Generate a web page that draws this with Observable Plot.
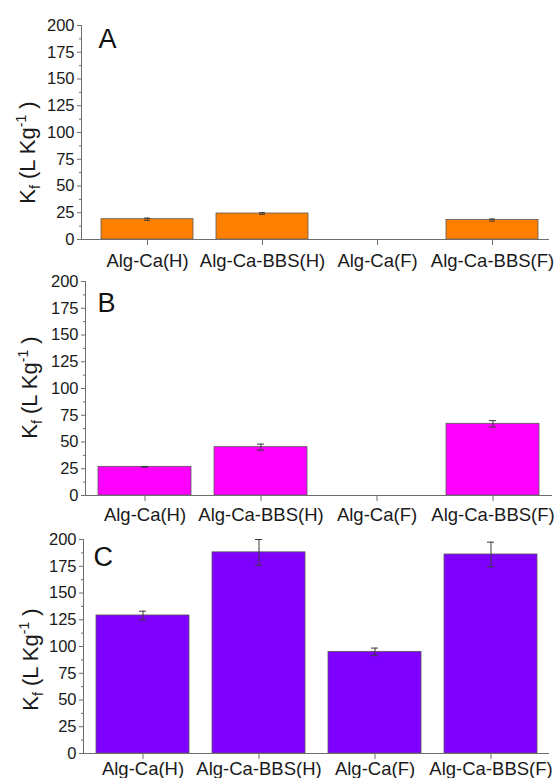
<!DOCTYPE html>
<html>
<head>
<meta charset="utf-8">
<script src="https://cdn.jsdelivr.net/npm/d3@7"></script>
<script src="https://cdn.jsdelivr.net/npm/@observablehq/plot@0.6"></script>
<style>
  body { margin: 0; background: #fff; }
  #chart svg { display: block; overflow: visible; }
</style>
</head>
<body>
<div id="chart"></div>
<script>
// ---- data ----
const categories = ["Alg-Ca(H)", "Alg-Ca-BBS(H)", "Alg-Ca(F)", "Alg-Ca-BBS(F)"];
const panelLetters = ["A", "B", "C"];
const valuesA = [19.0, 24.3, null, 18.2];
const errorsA = [1.0, 0.8, null, 1.0];
const valuesB = [26.8, 45.2, null, 67.0];
const errorsB = [0.3, 2.8, null, 3.0];
const valuesC = [129.0, 188.0, 95.0, 186.0];
const errorsC = [4.0, 12.0, 3.5, 11.5];
const barColors = ["#FF8000", "#FF00FF", "#8000FF"];
const yTicks = [0, 25, 50, 75, 100, 125, 150, 175, 200];
const yMinorTicks = [12.5, 37.5, 62.5, 87.5, 112.5, 137.5, 162.5, 187.5];
const yLabelParts = ["K", "f", "(L Kg", "-1", ")"];

// ---- layout ----
const layouts = [
  {height: 262, marginTop: 25, marginBottom: 23, marginLeft: 81, marginRight: 9, insetLeft: 8,
   tickPadding: 8, letterDx: 17, letterDy: 3, labelDx: -54, labelDy: 20},
  {height: 258, marginTop: 19, marginBottom: 25, marginLeft: 85, marginRight: 6, insetLeft: 0,
   tickPadding: 6, letterDx: 12, letterDy: 11, labelDx: -56, labelDy: -1},
  {height: 258, marginTop: 19, marginBottom: 25, marginLeft: 83, marginRight: 9, insetLeft: 1.5,
   tickPadding: 2.5, letterDx: 10, letterDy: 7, labelDx: -53, labelDy: 13}
];

const seriesValues = [valuesA, valuesB, valuesC];
const seriesErrors = [errorsA, errorsB, errorsC];
const yLabelPlain = yLabelParts.join("");
const font = "'Liberation Sans', Arial, sans-serif";
const axisColor = "#6e6e6e";

const container = document.getElementById("chart");

seriesValues.forEach((vals, i) => {
  const L = layouts[i];
  const rows = categories.map((c, j) => ({c, v: vals[j], e: seriesErrors[i][j]}))
    .filter(d => d.v != null);

  const svg = Plot.plot({
    width: 558,
    height: L.height,
    marginTop: L.marginTop,
    marginBottom: L.marginBottom,
    marginLeft: L.marginLeft,
    marginRight: L.marginRight,
    style: {fontFamily: font, background: "transparent", color: "#1a1a1a", overflow: "visible"},
    x: {domain: categories, paddingInner: 0.2, paddingOuter: 0.1, insetLeft: L.insetLeft, label: null},
    y: {domain: [0, 200], label: null},
    marks: [
      Plot.barY(rows, {x: "c", y: "v", fill: barColors[i], stroke: "#5a5a5a", strokeWidth: 0.8}),
      Plot.ruleX(rows, {x: "c", y1: d => d.v - d.e, y2: d => d.v + d.e, stroke: "#3a3a3a", strokeWidth: 1}),
      Plot.tickY(rows, {x: "c", y: d => d.v + d.e, stroke: "#3a3a3a", strokeWidth: 1, insetLeft: 43, insetRight: 43}),
      Plot.tickY(rows, {x: "c", y: d => d.v - d.e, stroke: "#3a3a3a", strokeWidth: 1, insetLeft: 43, insetRight: 43}),
      Plot.ruleY([0], {stroke: axisColor, strokeWidth: 1}),
      Plot.frame({anchor: "left", stroke: axisColor, strokeWidth: 1}),
      Plot.axisY({ticks: yTicks, tickSize: 4, tickPadding: 3, fontSize: 16.5, stroke: axisColor, fill: "#1a1a1a", label: null}),
      Plot.axisY({ticks: yMinorTicks, tickSize: 2, tickFormat: () => "", stroke: axisColor, label: null}),
      Plot.axisX({tickSize: 6, tickPadding: L.tickPadding, fontSize: 18.5, stroke: axisColor, fill: "#1a1a1a", label: null}),
      Plot.text([panelLetters[i]], {frameAnchor: "top-left", text: d => d, dx: L.letterDx, dy: L.letterDy,
        fontSize: 27, textAnchor: "start", lineAnchor: "top", fill: "#111"}),
      Plot.text([yLabelPlain], {frameAnchor: "left", text: d => d, rotate: -90, dx: L.labelDx, dy: L.labelDy,
        fontSize: 22, textAnchor: "middle", lineAnchor: "middle", fill: "#1a1a1a"})
    ]
  });

  // turn the y label into rich text (subscript / superscript)
  svg.querySelectorAll("text").forEach(t => {
    if (t.textContent === yLabelPlain) {
      while (t.firstChild) t.removeChild(t.firstChild);
      const ns = "http://www.w3.org/2000/svg";
      const specs = [
        {s: yLabelParts[0], dy: 0, size: null},
        {s: yLabelParts[1], dy: 5, size: 14},
        {s: " " + yLabelParts[2], dy: -5, size: null},
        {s: yLabelParts[3], dy: -9, size: 14},
        {s: " " + yLabelParts[4], dy: 9, size: null}
      ];
      specs.forEach(p => {
        const ts = document.createElementNS(ns, "tspan");
        ts.textContent = p.s;
        if (p.dy) ts.setAttribute("dy", p.dy);
        if (p.size) ts.setAttribute("font-size", p.size);
        t.appendChild(ts);
      });
    }
  });

  container.appendChild(svg);
});
</script>
</body>
</html>
